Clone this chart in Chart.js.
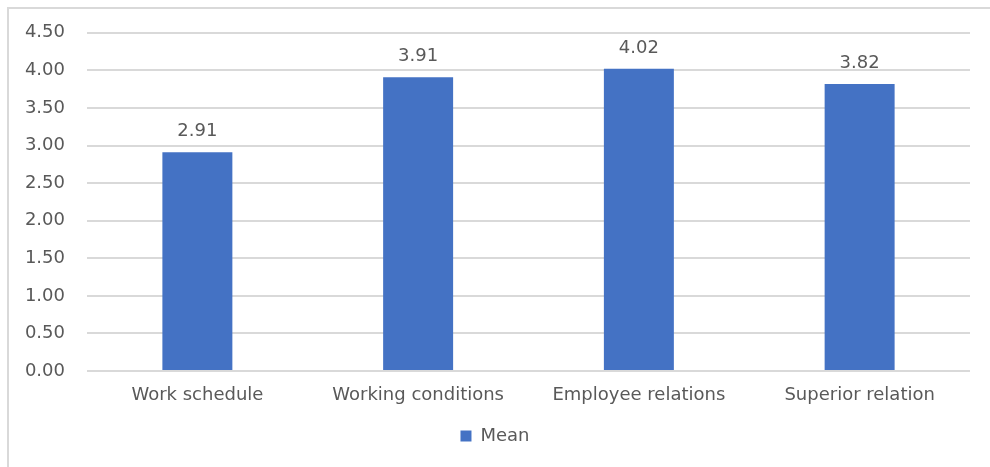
<!DOCTYPE html>
<html>
<head>
<meta charset="utf-8">
<script src="https://cdn.jsdelivr.net/npm/chart.js@4"></script>
<style>
  html, body { margin: 0; padding: 0; background: #fff; }
  #wrap { width: 990px; height: 467px; }
</style>
</head>
<body>
<div id="wrap"><canvas id="meanchart" width="990" height="467"></canvas></div>
<script>
const categories = ["Work schedule", "Working conditions", "Employee relations", "Superior relation"];
const meanValues = [2.91, 3.91, 4.02, 3.82];
const seriesName = "Mean";

const textColor = "#595959";
const barColor = "#4472C4";
const gridColor = "#d9d9d9";
const fontFamily = "'DejaVu Sans', 'Open Sans', sans-serif";
const fontSize = 18;

// value labels above bars
const valueLabels = {
  id: "valueLabels",
  afterDatasetsDraw(chart) {
    const ctx = chart.ctx;
    const meta = chart.getDatasetMeta(0);
    ctx.save();
    ctx.fillStyle = textColor;
    ctx.font = fontSize + "px " + fontFamily;
    ctx.textAlign = "center";
    ctx.textBaseline = "bottom";
    meta.data.forEach((bar, i) => {
      ctx.fillText(meanValues[i].toFixed(2), bar.x, bar.y - 12);
    });
    ctx.restore();
  }
};

// light frame around the chart like the office export
const frame = {
  id: "frame",
  beforeDraw(chart) {
    const ctx = chart.ctx;
    ctx.save();
    ctx.strokeStyle = gridColor;
    ctx.lineWidth = 2;
    ctx.beginPath();
    ctx.moveTo(8, chart.height);
    ctx.lineTo(8, 8);
    ctx.lineTo(chart.width, 8);
    ctx.stroke();
    ctx.restore();
  }
};

var ctx = document.getElementById("meanchart").getContext("2d");
var barChart = new Chart(ctx, {
  type: "bar",
  data: {
    labels: categories,
    datasets: [{
      label: seriesName,
      data: meanValues,
      backgroundColor: barColor,
      borderWidth: 0,
      categoryPercentage: 1,
      barPercentage: 0.317
    }]
  },
  options: {
    responsive: false,
    animation: false,
    layout: { padding: { left: 20, right: 20, top: 32, bottom: 12 } },
    plugins: {
      legend: {
        position: "bottom",
        labels: {
          color: textColor,
          font: { family: fontFamily, size: fontSize },
          boxWidth: 11,
          boxHeight: 11,
          padding: 10
        }
      },
      tooltip: { enabled: false }
    },
    scales: {
      x: {
        grid: { display: false },
        border: { display: false },
        ticks: {
          color: textColor,
          font: { family: fontFamily, size: fontSize },
          padding: 6,
          maxRotation: 0
        },
        afterFit(scale) { scale.height = 46; }
      },
      y: {
        min: 0,
        max: 4.5,
        grid: { color: gridColor, lineWidth: 2, drawTicks: false },
        border: { display: false },
        ticks: {
          stepSize: 0.5,
          color: textColor,
          font: { family: fontFamily, size: fontSize },
          padding: 22,
          callback: v => v.toFixed(2)
        },
        afterFit(scale) { scale.width = 67; }
      }
    }
  },
  plugins: [frame, valueLabels]
});
</script>
</body>
</html>
